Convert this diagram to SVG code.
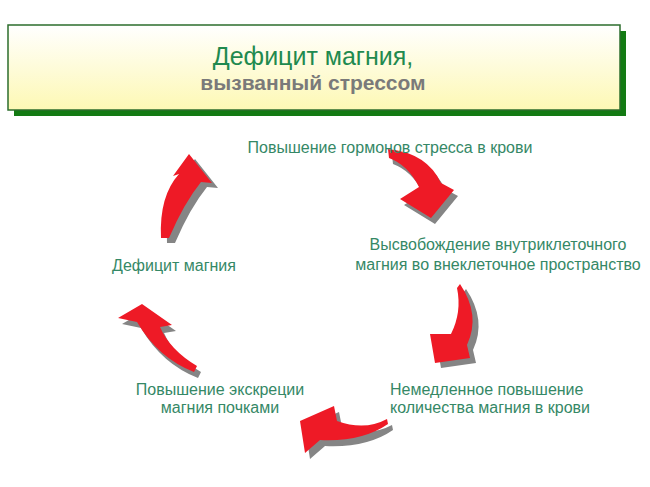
<svg xmlns="http://www.w3.org/2000/svg" xmlns:xlink="http://www.w3.org/1999/xlink" width="650" height="487" viewBox="0 0 650 487">
<style>
.lbl{font-family:"Liberation Sans",Arial,sans-serif;font-size:16px;fill:#358866;}
.ar{fill:#ee1a26;}
.sh{fill:#858585;}
</style>
<defs>
<linearGradient id="gy" x1="0" y1="0" x2="0" y2="1">
<stop offset="0" stop-color="#ffffff"/>
<stop offset="1" stop-color="#fdf8b4"/>
</linearGradient>
<path id="a1" d="M161,238 Q159,196 179,174 L173,176 L189,154 L212,183 L201,182 Q184,203 169,238 Z"/>
<path id="a2" d="M388,149 Q427,153 441,183 L454,190 L431,218 L400,199 L419,187 Q408,165 389,158 Z"/>
<path id="a3" d="M460,284 Q481,315 467,345 L470,358 L435,363 L430,334 L451,334 Q462,312 457,288 Z"/>
<path id="a4" d="M387,419 Q365,431 337,421 L334,406 L300,421 L305,453 L320,440 Q362,442 388,424 Z"/>
<path id="a5" d="M197,366 Q170,350 160,327 L172,325 L142,304 L118,318 L137,322 Q158,358 194,372 Z"/>
</defs>
<rect width="650" height="487" fill="#ffffff"/>
<g id="title">
<rect x="14" y="31" width="612" height="85" fill="#137a13"/>
<rect x="8" y="25" width="612" height="85" fill="url(#gy)" stroke="#2d6e2d" stroke-width="1.5"/>
<text x="313" y="65" text-anchor="middle" font-family="'Liberation Sans',Arial,sans-serif" font-size="25" fill="#1f8a4f">Дефицит магния,</text>
<text x="313" y="90" text-anchor="middle" font-family="'Liberation Sans',Arial,sans-serif" font-size="21" font-weight="bold" fill="#7a7a7a">вызванный стрессом</text>
</g>
<g id="connectors">
<use xlink:href="#a1" class="sh" transform="translate(6,5)"/>
<use xlink:href="#a1" class="ar"/>
<use xlink:href="#a2" class="sh" transform="translate(4,6)"/>
<use xlink:href="#a2" class="ar"/>
<use xlink:href="#a3" class="sh" transform="translate(6,5)"/>
<use xlink:href="#a3" class="ar"/>
<use xlink:href="#a4" class="sh" transform="translate(5,6)"/>
<use xlink:href="#a4" class="ar"/>
<use xlink:href="#a5" class="sh" transform="translate(4,6)"/>
<use xlink:href="#a5" class="ar"/>
</g>
<g id="n1"><text class="lbl" x="390" y="153" text-anchor="middle">Повышение гормонов стресса в крови</text></g>
<g id="n2"><text class="lbl" x="498" y="250" text-anchor="middle">Высвобождение внутриклеточного</text><text class="lbl" x="498" y="270" text-anchor="middle">магния во внеклеточное пространство</text></g>
<g id="n3"><text class="lbl" x="390" y="395">Немедленное повышение</text><text class="lbl" x="390" y="413">количества магния в крови</text></g>
<g id="n4"><text class="lbl" x="220" y="395" text-anchor="middle">Повышение экскреции</text><text class="lbl" x="220" y="413" text-anchor="middle">магния почками</text></g>
<g id="n5"><text class="lbl" x="174" y="271" text-anchor="middle">Дефицит магния</text></g>
</svg>
